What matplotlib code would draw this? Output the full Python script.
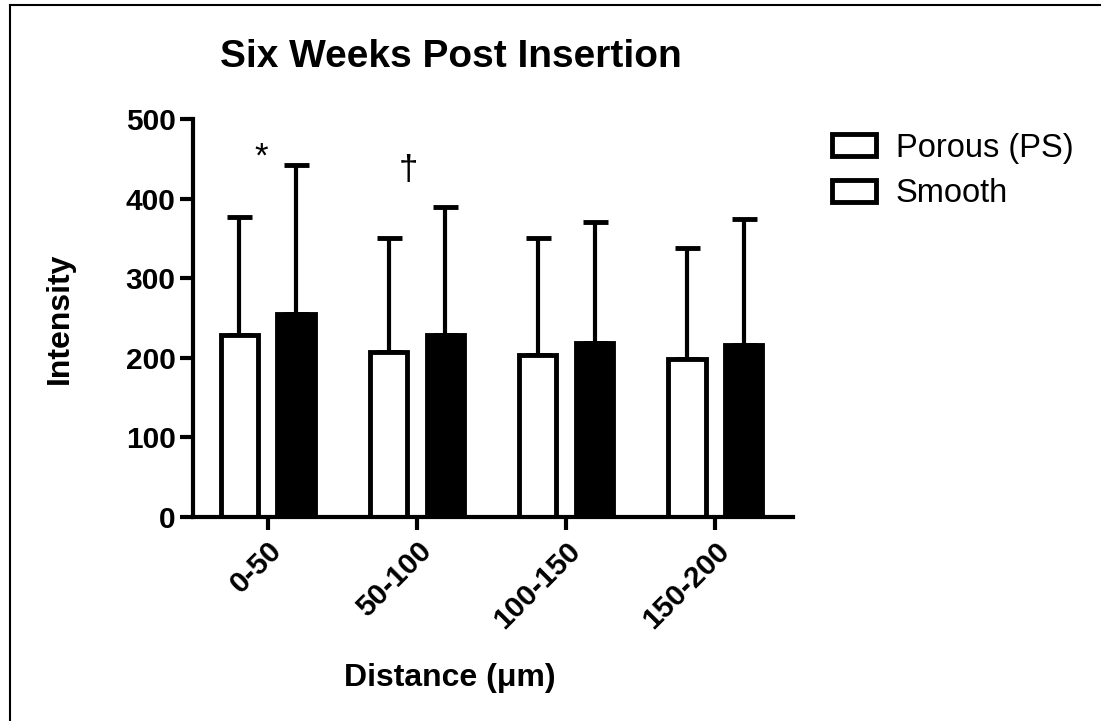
import numpy as np
import matplotlib
matplotlib.use('Agg')
import matplotlib.pyplot as plt
from matplotlib.patches import Patch
from matplotlib.lines import Line2D

plt.rcParams['font.family'] = ['Liberation Sans', 'DejaVu Sans']

# data
categories = ['0-50', '50-100', '100-150', '150-200']
porous_mean = [229, 207, 204, 198]
porous_sd = [148, 144, 146, 140]
smooth_mean = [255, 229, 218, 216]
smooth_sd = [187, 160, 153, 158]
series_labels = ['Porous (PS)', 'Smooth']
marks = ['*', '\u2020']     # significance marks over first two groups
mark_x = [-0.04, 0.94]
mark_y = [440, 423]

fig = plt.figure(figsize=(11.01, 7.21), dpi=100)
ax = fig.add_axes([0.1753, 0.2830, 0.5450, 0.5520])

x = np.arange(len(categories))
width = 0.25
off = 0.19
lw = 3.0

# error bars (upper only) drawn under the bars
ax.errorbar(x - off, porous_mean, yerr=[np.zeros(len(x)), porous_sd], fmt='none',
            ecolor='black', elinewidth=lw, capsize=9, capthick=3.5, zorder=1)
ax.errorbar(x + off, smooth_mean, yerr=[np.zeros(len(x)), smooth_sd], fmt='none',
            ecolor='black', elinewidth=lw, capsize=9, capthick=3.5, zorder=1)
ax.bar(x - off, porous_mean, width, facecolor='white', edgecolor='black', linewidth=3.5, zorder=2)
ax.bar(x + off, smooth_mean, width, facecolor='black', edgecolor='black', linewidth=3.5, zorder=2)

for m, mx, my in zip(marks, mark_x, mark_y):
    ax.text(mx, my, m, fontsize=25, ha='center', va='baseline')

ax.set_xlim(-0.5, 3.52)
ax.set_ylim(0, 500)
ax.set_yticks([0, 100, 200, 300, 400, 500])
ax.set_xticks(x)
ax.set_xticklabels(categories, rotation=45, ha='right', va='top', rotation_mode='anchor')
for s in ['top', 'right']:
    ax.spines[s].set_visible(False)
for s in ['left', 'bottom']:
    ax.spines[s].set_linewidth(lw)
ax.tick_params(axis='both', direction='out', width=lw, labelsize=21.5)
ax.tick_params(axis='y', length=9.5, pad=3)
ax.tick_params(axis='x', length=9, pad=5)
for lab in ax.get_xticklabels() + ax.get_yticklabels():
    lab.set_fontweight('bold')

fig.text(0.4096, 0.921, 'Six Weeks Post Insertion', fontsize=28, fontweight='bold',
         ha='center', va='center')
fig.text(0.0545, 0.559, 'Intensity', fontsize=23, fontweight='bold', rotation=90,
         ha='center', va='center')
fig.text(0.409, 0.060, 'Distance (\u03bcm)', fontsize=23, fontweight='bold',
         ha='center', va='center')

# legend shows both entries as open boxes, like the reference
handles = [Patch(facecolor='white', edgecolor='black', linewidth=3.5) for _ in series_labels]
fig.legend(handles, series_labels, loc='upper left', bbox_to_anchor=(0.744, 0.834),
           frameon=False, fontsize=23.5, handlelength=1.35, handleheight=0.65,
           handletextpad=0.6, labelspacing=0.45, borderaxespad=0)

# partial frame around the figure (top and left edges)
fig.add_artist(Line2D([10 / 1101, 1.0], [1 - 5 / 721, 1 - 5 / 721], transform=fig.transFigure,
                      color='black', linewidth=1.5))
fig.add_artist(Line2D([10 / 1101, 10 / 1101], [0.0, 1 - 5 / 721], transform=fig.transFigure,
                      color='black', linewidth=1.5))

fig.savefig('out.png', dpi=100, facecolor='white')
